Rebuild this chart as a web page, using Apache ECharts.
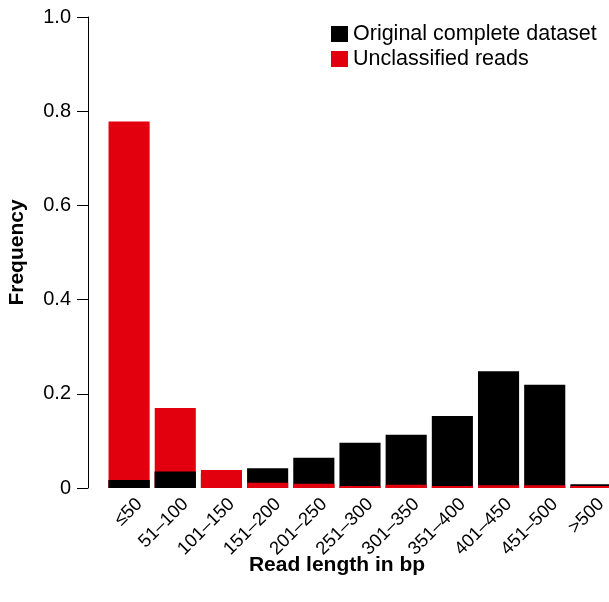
<!DOCTYPE html>
<html>
<head>
<meta charset="utf-8">
<script src="https://cdn.jsdelivr.net/npm/echarts@6/dist/echarts.min.js"></script>
<style>html,body{margin:0;padding:0;background:#fff;}#c{width:609px;height:602px;}</style>
</head>
<body>
<div id="c"></div>
<script>
var categories = ['≤50','51–100','101–150','151–200','201–250','251–300','301–350','351–400','401–450','451–500','>500'];
var original = [0.017,0.035,0.030,0.042,0.064,0.096,0.113,0.153,0.248,0.219,0.008];
var unclassified = [0.778,0.170,0.038,0.011,0.009,0.004,0.007,0.004,0.006,0.006,0.004];
// categories where the black bar is drawn over the red one
var blackOnTop = [true,true,false,false,false,false,false,false,false,false,false];
var yTicks = [0,0.2,0.4,0.6,0.8,1.0];

var RED = '#E2000F';
var FONT = 'Liberation Sans, Arial, sans-serif';

var blackFront = original.map(function(v,i){ return blackOnTop[i] ? v : '-'; });

var chart = echarts.init(document.getElementById('c'), null, {renderer:'canvas'});
chart.setOption({
  animation:false,
  textStyle:{fontFamily:FONT},
  grid:{left:106, right:-5, top:17, bottom:114, containLabel:false, outerBoundsMode:'none'},
  legend:{
    orient:'vertical', left:331, top:23, padding:0, itemWidth:17, itemHeight:16, itemGap:3,
    icon:'rect', selectedMode:false,
    textStyle:{fontSize:21.5, color:'#000', fontFamily:FONT},
    data:['Original complete dataset','Unclassified reads']
  },
  xAxis:{
    type:'category', data:categories,
    axisLine:{show:false}, axisTick:{show:false},
    axisLabel:{rotate:45, fontSize:18.5, color:'#000', margin:3, interval:0, fontFamily:FONT,
      verticalAlign:'top', padding:[5,0,0,0]},
    name:'Read length in bp', nameLocation:'middle', nameGap:67, nameMoveOverlap:false,
    nameTextStyle:{fontSize:21, fontWeight:'bold', color:'#000', padding:[0,46,0,0], fontFamily:FONT}
  },
  yAxis:{
    type:'value', min:0, max:1, interval:0.2, offset:18,
    axisLine:{show:true, lineStyle:{color:'#000', width:1}},
    axisTick:{show:true, length:11, lineStyle:{color:'#000'}},
    splitLine:{show:false},
    axisLabel:{fontSize:20, color:'#000', margin:17, fontFamily:FONT,
      formatter:function(v){ return v===0 ? '0' : v.toFixed(1); }},
    name:'Frequency', nameLocation:'middle', nameGap:60, nameMoveOverlap:false,
    nameTextStyle:{fontSize:21, fontWeight:'bold', color:'#000', fontFamily:FONT}
  },
  series:[
    {name:'Original complete dataset', type:'bar', data:original, barCategoryGap:'11%', barGap:'-100%',
      itemStyle:{color:'#000'}, z:2},
    {name:'Unclassified reads', type:'bar', data:unclassified, barCategoryGap:'11%', barGap:'-100%',
      itemStyle:{color:RED}, z:3},
    {name:'Original complete dataset', type:'bar', data:blackFront, barCategoryGap:'11%', barGap:'-100%',
      itemStyle:{color:'#000'}, z:4}
  ]
});
</script>
</body>
</html>
